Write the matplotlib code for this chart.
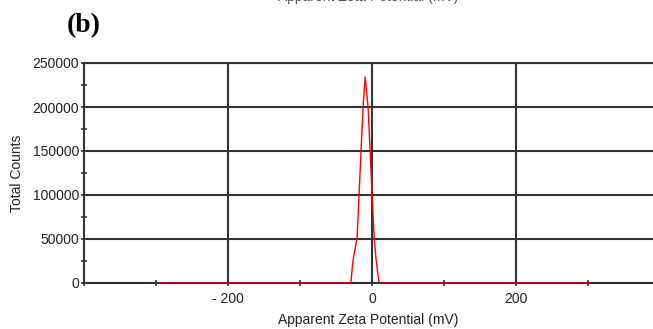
import matplotlib
matplotlib.use("Agg")
import matplotlib.pyplot as plt
from matplotlib.ticker import FixedLocator, MultipleLocator

# zeta potential distribution
zeta = [-300, -29.6, -26.4, -20.8, -18.0, -15.3, -12.5, -9.7, -5.6, -2.8, 0.0, 2.8, 5.6, 9.7, 300]
counts = [0, 0, 26000, 52000, 102000, 151000, 200000, 234000, 200000, 151000, 102000, 52000, 26000, 0, 0]

x_major = [-200, 0, 200]
x_labels = ["- 200", "0", "200"]
x_minor = [-400, -300, -100, 100, 300]

plt.rcParams['font.family'] = ['Liberation Sans', 'DejaVu Sans']
dark = '#333333'

fig = plt.figure(figsize=(6.53, 3.29), dpi=100)
ax = fig.add_axes([84 / 653, 46 / 329, 569 / 653, 220 / 329])

ax.plot(zeta, counts, color='#ff0000', lw=1.0, zorder=3)

ax.set_xlim(-400, 390)
ax.set_ylim(0, 250000)

ax.xaxis.set_major_locator(FixedLocator(x_major))
ax.set_xticklabels(x_labels)
ax.xaxis.set_minor_locator(FixedLocator(x_minor))
ax.yaxis.set_major_locator(MultipleLocator(50000))
ax.yaxis.set_minor_locator(MultipleLocator(25000))

ax.grid(True, which='major', color=dark, lw=1.5)
ax.tick_params(which='both', direction='inout', length=5, width=1.2, colors=dark,
               labelsize=10, labelcolor='#222222')
ax.tick_params(axis='x', pad=4)
ax.tick_params(axis='y', pad=1)

ax.spines['right'].set_visible(False)
for side in ['left', 'bottom', 'top']:
    ax.spines[side].set_color(dark)
    ax.spines[side].set_linewidth(1.5)

ax.set_xlabel("Apparent Zeta Potential (mV)", fontsize=10, color='#222222', labelpad=5)
ax.set_ylabel("Total Counts", fontsize=10, color='#222222', labelpad=6)

fig.text(84 / 653, 1 - 26 / 329, "(b)", family='Liberation Serif', fontweight='bold',
         fontsize=20, ha='center', va='center')
# cut-off title left over from the panel above (only its lower edge shows)
fig.text(368 / 653, 1 - 0.5 / 329, "Apparent Zeta Potential (mV)", fontsize=10,
         color='#555555', ha='center', va='baseline')

fig.savefig("out.png", dpi=100)
